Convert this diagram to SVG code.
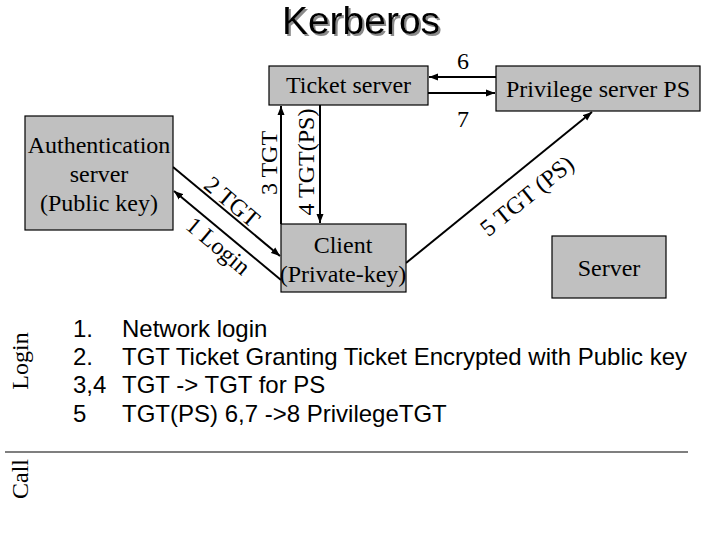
<svg xmlns="http://www.w3.org/2000/svg" width="720" height="540" viewBox="0 0 720 540">
  <defs>
    <marker id="arr" markerUnits="userSpaceOnUse" markerWidth="10" markerHeight="8" refX="9" refY="4" orient="auto">
      <path d="M0,0.5 L9,4 L0,7.5 z" fill="#000"/>
    </marker>
    <filter id="shadow" x="-10%" y="-20%" width="130%" height="150%">
      <feDropShadow dx="2" dy="2" stdDeviation="0.6" flood-color="#8a8a8a" flood-opacity="1"/>
    </filter>
  </defs>
  <style>
    .box { fill: #c0c0c0; stroke: #000; stroke-width: 1.2; }
    .lbl { font-family: "Liberation Serif", "Times New Roman", serif; font-size: 24px; fill: #000; text-anchor: middle; }
    .list { font-family: "Liberation Sans", Arial, sans-serif; font-size: 24px; fill: #000; }
    .conn { stroke: #000; stroke-width: 2; fill: none; marker-end: url(#arr); }
  </style>
  <rect width="720" height="540" fill="#fff"/>

  <text id="title" x="361" y="34" font-family="Liberation Sans, Arial, sans-serif" font-size="39" text-anchor="middle" filter="url(#shadow)">Kerberos</text>

  <g id="connectors">
    <line class="conn" x1="496" y1="77" x2="429" y2="77"/>
    <line class="conn" x1="428" y1="93" x2="495" y2="93"/>
    <line class="conn" x1="281" y1="224" x2="281" y2="106"/>
    <line class="conn" x1="320" y1="105" x2="320" y2="223"/>
    <line class="conn" x1="173" y1="167" x2="280" y2="256"/>
    <line class="conn" x1="281" y1="280" x2="174" y2="191"/>
    <line class="conn" x1="406" y1="263" x2="592" y2="112"/>
  </g>

  <g id="auth-server">
    <rect class="box" x="25" y="116" width="148" height="114"/>
    <text class="lbl" x="99" y="153">Authentication</text>
    <text class="lbl" x="99" y="182">server</text>
    <text class="lbl" x="99" y="211">(Public key)</text>
  </g>
  <g id="ticket-server">
    <rect class="box" x="269" y="66" width="159" height="39"/>
    <text class="lbl" x="348.5" y="93">Ticket server</text>
  </g>
  <g id="privilege-server">
    <rect class="box" x="496" y="66" width="204" height="45"/>
    <text class="lbl" x="598" y="97">Privilege server PS</text>
  </g>
  <g id="client">
    <rect class="box" x="281" y="224" width="125" height="68"/>
    <text class="lbl" x="343" y="253">Client</text>
    <text class="lbl" x="343" y="282">(Private-key)</text>
  </g>
  <g id="server">
    <rect class="box" x="552" y="236" width="114" height="62"/>
    <text class="lbl" x="609" y="276">Server</text>
  </g>

  <g id="connector-labels">
    <text class="lbl" x="463" y="69">6</text>
    <text class="lbl" x="463" y="127">7</text>
    <text class="lbl" transform="translate(277,163) rotate(-90)">3 TGT</text>
    <text class="lbl" transform="translate(314,162) rotate(-90)">4 TGT(PS)</text>
    <text class="lbl" transform="translate(227,208) rotate(40)">2 TGT</text>
    <text class="lbl" transform="translate(213,252) rotate(40)">1 Login</text>
    <text class="lbl" transform="translate(532,202) rotate(-39)">5 TGT (PS)</text>
  </g>

  <g id="legend">
    <text class="list" x="73" y="337">1.</text>
    <text class="list" x="122" y="337">Network login</text>
    <text class="list" x="73" y="365">2.</text>
    <text class="list" x="122" y="365">TGT Ticket Granting Ticket Encrypted with Public key</text>
    <text class="list" x="73" y="393">3,4</text>
    <text class="list" x="122" y="393">TGT -&gt; TGT for PS</text>
    <text class="list" x="73" y="422">5</text>
    <text class="list" x="122" y="422">TGT(PS) 6,7 -&gt;8 PrivilegeTGT</text>
  </g>

  <g id="sections">
    <text class="lbl" transform="translate(28,361) rotate(-90)">Login</text>
    <text class="lbl" transform="translate(28,479) rotate(-90)">Call</text>
    <line x1="5" y1="452" x2="688" y2="452" stroke="#000" stroke-width="1.2"/>
  </g>
</svg>
